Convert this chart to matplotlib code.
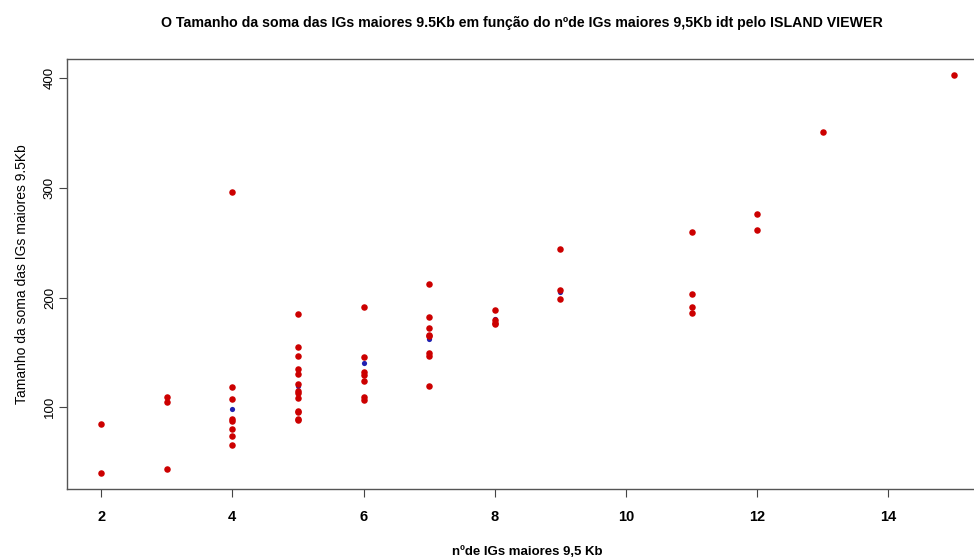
import matplotlib
matplotlib.use("Agg")
import matplotlib.pyplot as plt

# red points: n of IGs > 9.5Kb vs summed size
n_igs = [2, 2,
         3, 3, 3,
         4, 4, 4, 4, 4, 4, 4, 4,
         5, 5, 5, 5, 5, 5, 5, 5, 5, 5, 5, 5, 5,
         6, 6, 6, 6, 6, 6, 6,
         7, 7, 7, 7, 7, 7, 7, 7,
         8, 8, 8, 8,
         9, 9, 9,
         11, 11, 11, 11,
         12, 12,
         13,
         15]
soma = [85, 40,
        109, 105, 44,
        296, 118, 107.5, 89, 87, 80, 74, 66,
        185, 155, 147, 135, 130, 121, 115, 113, 108.5, 97, 95.5, 89, 88,
        191, 146, 132.5, 129.5, 124, 109, 107,
        212, 182, 172, 166, 164.5, 149, 147, 119,
        188.5, 179.5, 177, 176,
        244.5, 207, 199,
        260, 203, 191, 186,
        276, 262,
        351,
        403]

# blue points (mostly hidden under the red ones)
n_blue = [4, 5, 6, 7, 8, 9]
soma_blue = [98.5, 119.4, 140.7, 162.0, 180.2, 205.4]

xticks = [2, 4, 6, 8, 10, 12, 14]
yticks = [100, 200, 300, 400]

narrow = ['Liberation Sans Narrow', 'Liberation Sans', 'DejaVu Sans']
regular = ['Liberation Sans', 'DejaVu Sans']

fig = plt.figure(figsize=(9.74, 5.58), dpi=100)
ax = fig.add_axes([0.0688, 0.1237, 0.9456, 0.7706])

ax.scatter(n_blue, soma_blue, s=14, color='#2020b0', zorder=2, linewidths=0)
ax.scatter(n_igs, soma, s=22, color='#cc0000', zorder=3, linewidths=0)

# R-style 4% padding
xmin, xmax = min(n_igs), max(n_igs)
ymin, ymax = min(soma), max(soma)
dx = (xmax - xmin) * 0.04
dy = (ymax - ymin) * 0.04
ax.set_xlim(xmin - dx, xmax + dx)
ax.set_ylim(ymin - dy, ymax + dy)

ax.set_xticks(xticks)
ax.set_xticklabels([str(t) for t in xticks], family=narrow, fontweight='bold', fontsize=10.5)
ax.set_yticks(yticks)
ax.set_yticklabels([str(t) for t in yticks], family=regular, fontsize=9.5,
                   rotation=90, va='center')
ax.tick_params(axis='x', length=6, width=0.8, color='#444444', pad=9)
ax.tick_params(axis='y', length=6, width=0.8, color='#444444', pad=2)

for sp in ax.spines.values():
    sp.set_color('#555555')
    sp.set_linewidth(1.0)

ax.set_xlabel('nºde IGs maiores 9,5 Kb', family=narrow, fontsize=9.5,
              fontweight='bold', labelpad=16)
ax.set_ylabel('Tamanho da soma das IGs maiores 9.5Kb', family=regular,
              fontsize=10, labelpad=11)

fig.text(0.5356, 0.958,
         'O Tamanho da soma das IGs maiores 9.5Kb em função do nºde IGs maiores 9,5Kb idt pelo ISLAND VIEWER',
         ha='center', va='center', family=narrow, fontweight='bold', fontsize=10.2)

fig.savefig('out.png', dpi=100)
